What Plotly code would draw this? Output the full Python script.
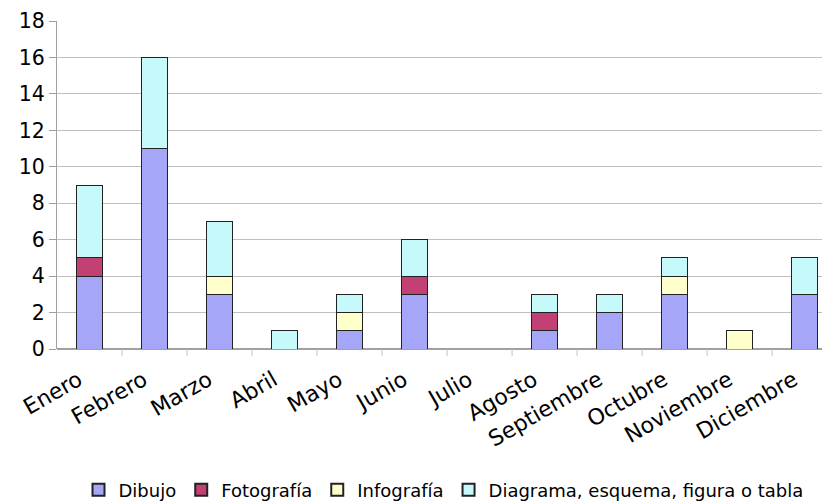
import plotly.graph_objects as go

meses = ["Enero", "Febrero", "Marzo", "Abril", "Mayo", "Junio", "Julio",
         "Agosto", "Septiembre", "Octubre", "Noviembre", "Diciembre"]
dibujo = [4, 11, 3, 0, 1, 3, 0, 1, 2, 3, 0, 3]
fotografia = [1, 0, 0, 0, 0, 1, 0, 1, 0, 0, 0, 0]
infografia = [0, 0, 1, 0, 1, 0, 0, 0, 0, 1, 1, 0]
diagrama = [4, 5, 3, 1, 1, 2, 0, 1, 1, 1, 0, 2]
y_ticks = [0, 2, 4, 6, 8, 10, 12, 14, 16, 18]

series = [
    ("Dibujo", dibujo, "#A6A6F8"),
    ("Fotografía", fotografia, "#C24074"),
    ("Infografía", infografia, "#FFFFCC"),
    ("Diagrama, esquema, figura o tabla", diagrama, "#C6FAFA"),
]

fig = go.Figure()
for name, vals, color in series:
    fig.add_trace(go.Bar(
        x=meses, y=vals, name=name, width=0.4,
        marker=dict(color=color, line=dict(color="#222222", width=1)),
    ))

# page body has an 8px margin, so the figure is sized/placed to compensate
fig.update_layout(
    barmode="stack",
    width=822, height=495,
    margin=dict(l=49, r=0, t=13, b=154, autoexpand=False),
    paper_bgcolor="white", plot_bgcolor="white",
    font=dict(family="DejaVu Sans", size=20, color="black"),
    showlegend=True,
    legend=dict(orientation="h", x=0.5, xanchor="center", y=-0.43, yanchor="middle",
                font=dict(size=18), traceorder="normal", itemwidth=30,
                itemsizing="constant"),
)
fig.update_xaxes(
    range=[-0.5, 11.39], tickangle=-30, automargin=False,
    showline=False, ticks="", showgrid=False,
    tickfont=dict(size=22), ticklabelstandoff=13, ticklabelshift=-11,
    ticklabeloverflow="allow",
)
fig.update_yaxes(
    range=[0, 18], tickvals=y_ticks, automargin=False,
    showgrid=True, gridcolor="#BFBFBF", gridwidth=1,
    showline=True, linecolor="#A0A0A0", linewidth=1,
    ticks="outside", ticklen=7, tickcolor="#A0A0A0",
    tickfont=dict(size=20.5), zeroline=True, zerolinecolor="#A0A0A0",
    ticklabeloverflow="allow",
)
# category separator ticks along the baseline
for i in range(1, 12):
    fig.add_shape(type="line", xref="x", yref="paper",
                  x0=i - 0.5, x1=i - 0.5, y0=0, y1=-0.021,
                  line=dict(color="#C0C0C0", width=1))

fig.write_html("out.html")
